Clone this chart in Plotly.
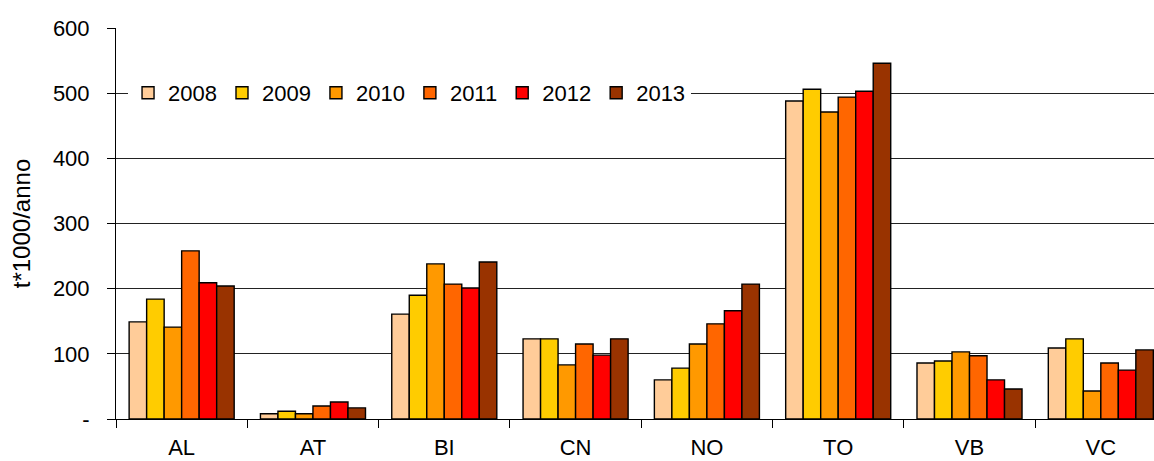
import plotly.graph_objects as go

# province codes on the x axis
provinces = ['AL', 'AT', 'BI', 'CN', 'NO', 'TO', 'VB', 'VC']

# t*1000/anno per year
y2008 = [149, 8, 161, 123, 60, 488, 86, 109]
y2009 = [184, 12, 190, 123, 78, 506, 89, 123]
y2010 = [141, 8, 238, 83, 115, 471, 103, 43]
y2011 = [258, 20, 207, 115, 146, 494, 97, 86]
y2012 = [209, 26, 201, 98, 166, 503, 60, 75]
y2013 = [204, 17, 241, 123, 207, 546, 46, 106]

years = ['2008', '2009', '2010', '2011', '2012', '2013']
series = [y2008, y2009, y2010, y2011, y2012, y2013]
colors = ['#FFCC99', '#FFCC00', '#FF9900', '#FF6600', '#FF0000', '#993300']

ytickvals = [0, 100, 200, 300, 400, 500, 600]
yticktext = ['-', '100', '200', '300', '400', '500', '600']

font_family = 'Arial, Liberation Sans, sans-serif'

fig = go.Figure()
for name, vals, col in zip(years, series, colors):
    fig.add_trace(go.Bar(
        x=provinces, y=vals, name=name,
        marker=dict(color=col, line=dict(color='black', width=1.4))))

fig.update_layout(
    width=1154, height=461,
    margin=dict(l=116, r=0, t=28, b=42),
    paper_bgcolor='white', plot_bgcolor='white',
    barmode='group', bargap=0.2, bargroupgap=0,
    font=dict(family=font_family, size=22, color='black'),
    legend=dict(orientation='h', x=0.0116, y=0.834,
                xanchor='left', yanchor='middle',
                bgcolor='white', font=dict(size=22),
                itemwidth=30, traceorder='normal'),
    showlegend=True,
)

fig.update_xaxes(
    range=[-0.5, 7.405], automargin=False,
    showline=True, linecolor='black', linewidth=1,
    ticks='outside', tickson='boundaries', ticklen=8,
    tickcolor='black', tickwidth=1,
    showgrid=False, ticklabelstandoff=9,
    tickfont=dict(size=22))

fig.update_yaxes(
    range=[0, 600], automargin=False,
    tickvals=ytickvals, ticktext=yticktext,
    showline=True, linecolor='black', linewidth=1,
    ticks='outside', ticklen=8, tickcolor='black', tickwidth=1,
    showgrid=True, gridcolor='#222222', gridwidth=1,
    zeroline=False, ticklabelstandoff=13,
    tickfont=dict(size=22),
    title=dict(text='t*1000/anno', font=dict(size=24), standoff=15))

# the page's default body margin would shift the chart by 8px
fig.write_html("out.html", config={'displayModeBar': False},
               post_script="document.body.style.margin='0';")
